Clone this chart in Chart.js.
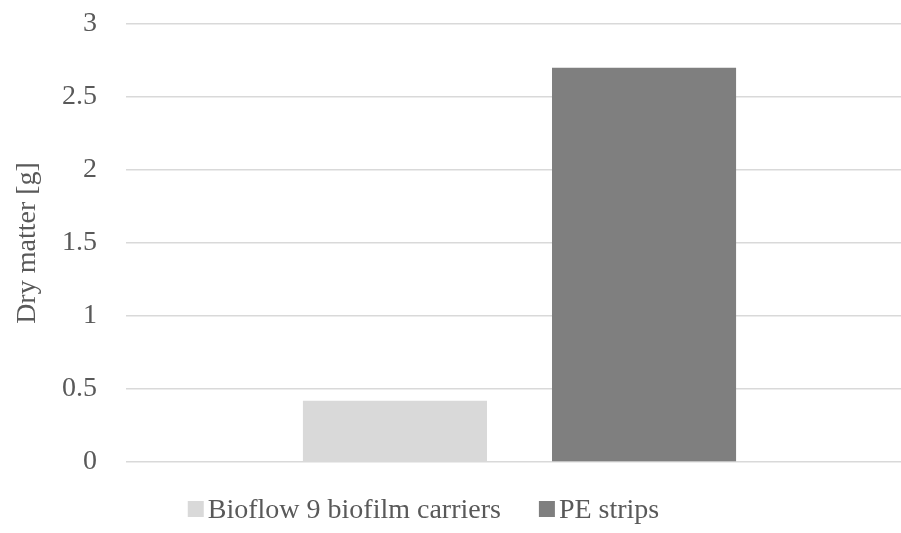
<!DOCTYPE html>
<html>
<head>
<meta charset="utf-8">
<script src="https://cdn.jsdelivr.net/npm/chart.js@4"></script>
<style>
  html, body { margin: 0; padding: 0; background: #ffffff; overflow: hidden; }
  #wrap { width: 901px; height: 533px; overflow: hidden; }
  canvas { display: block; }
</style>
</head>
<body>
<div id="wrap"><canvas id="chart" width="920" height="533"></canvas></div>
<script>
// Dry matter per carrier type
const categories = [''];
const seriesNames = ['Bioflow 9 biofilm carriers', 'PE strips'];
const bioflowValues = [0.42];
const peStripValues = [2.7];
const yTicks = [0, 0.5, 1, 1.5, 2, 2.5, 3];

const fontFamily = '"Liberation Serif", "Times New Roman", serif';
const textColor = '#595959';

// Compact legend row drawn under the plot: small square swatch, tight gap, serif label
const bottomLegend = {
  id: 'bottomLegend',
  afterDraw(chart, args, opts) {
    const ctx = chart.ctx;
    ctx.save();
    ctx.font = opts.size + 'px ' + fontFamily;
    const items = chart.data.datasets.map(ds => ({
      text: ds.label,
      color: ds.backgroundColor,
      w: ctx.measureText(ds.label).width
    }));
    let total = 0;
    items.forEach((it, i) => {
      total += opts.box + opts.textGap + it.w + (i < items.length - 1 ? opts.itemGap : 0);
    });
    let x = opts.centerX - total / 2;
    items.forEach(it => {
      ctx.fillStyle = it.color;
      ctx.fillRect(x, opts.baseline - opts.box - 1, opts.box, opts.box);
      x += opts.box + opts.textGap;
      ctx.fillStyle = textColor;
      ctx.textBaseline = 'alphabetic';
      ctx.textAlign = 'left';
      ctx.fillText(it.text, x, opts.baseline);
      x += it.w + opts.itemGap;
    });
    ctx.restore();
  }
};

new Chart(document.getElementById('chart'), {
  type: 'bar',
  data: {
    labels: categories,
    datasets: [
      { label: seriesNames[0], data: bioflowValues, backgroundColor: '#d9d9d9', borderWidth: 0 },
      { label: seriesNames[1], data: peStripValues, backgroundColor: '#7f7f7f', borderWidth: 0 }
    ]
  },
  plugins: [bottomLegend],
  options: {
    responsive: false,
    animation: false,
    devicePixelRatio: 1,
    layout: { padding: { top: 24, right: 7, left: 11, bottom: 71 } },
    datasets: { bar: { categoryPercentage: 0.633, barPercentage: 0.739 } },
    scales: {
      x: {
        grid: { display: false },
        border: { display: false },
        ticks: { display: false },
        afterFit: (axis) => { axis.height = 0; }
      },
      y: {
        min: 0,
        max: 3,
        afterBuildTicks: (axis) => { axis.ticks = yTicks.map(v => ({ value: v })); },
        afterFit: (axis) => {
          axis.width = 115;
          axis.paddingTop = 0;
          axis.paddingBottom = 0;
        },
        grid: { color: '#d9d9d9', lineWidth: 1.5, drawTicks: false },
        border: { display: false },
        ticks: {
          padding: 29,
          color: textColor,
          font: { family: fontFamily, size: 28 },
          callback: (v) => String(v)
        },
        title: {
          display: true,
          text: 'Dry matter [g]',
          color: textColor,
          font: { family: fontFamily, size: 28 },
          padding: 0
        }
      }
    },
    plugins: {
      tooltip: { enabled: false },
      legend: { display: false },
      bottomLegend: { size: 28, box: 16, textGap: 4, itemGap: 38, centerX: 423.5, baseline: 518 }
    }
  }
});
</script>
</body>
</html>
